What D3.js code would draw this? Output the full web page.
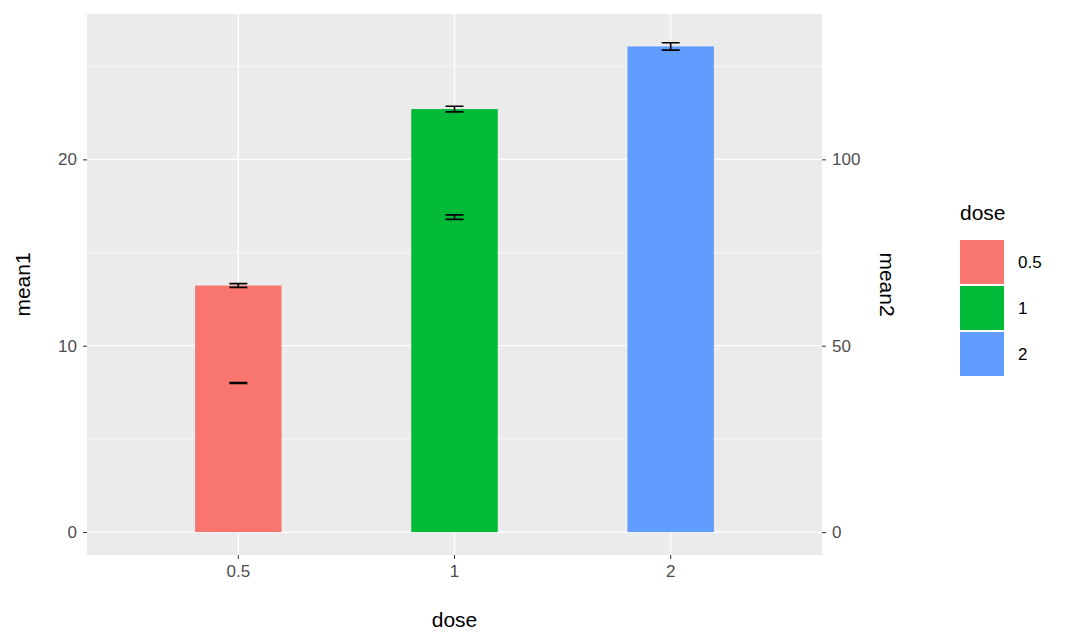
<!DOCTYPE html>
<html><head><meta charset="utf-8">
<script src="https://cdn.jsdelivr.net/npm/d3@7"></script>
<style>body{margin:0;background:#fff}text{font-family:"Liberation Sans",Arial,sans-serif}</style>
</head><body>
<script>
var doses = ["0.5", "1", "2"];
var mean1 = [13.23, 22.70, 26.06];
var err1 = [0.1, 0.15, 0.2];
var lowDoses = ["0.5", "1"];
var lowVals = [8.0, 16.9];
var lowErr = [0.02, 0.12];
var colors = ["#F8766D", "#00BA38", "#619CFF"];
var leftTicks = [0, 10, 20];
var rightTicks = [0, 50, 100];

var W = 1069, H = 641;
var margin = {top: 14, left: 87, right: 247, bottom: 86};
var pw = W - margin.left - margin.right, ph = H - margin.top - margin.bottom;

var svg = d3.select("body").append("svg").attr("width", W).attr("height", H);
var g = svg.append("g").attr("transform", "translate(" + margin.left + "," + margin.top + ")");

var x = d3.scaleBand().domain(doses).range([0, pw]).paddingInner(0.6).paddingOuter(0.5);
var y = d3.scaleLinear().domain([-1.23, 27.8]).range([ph, 0]);
var y2 = d3.scaleLinear().domain([-1.23 * 5, 27.8 * 5]).range([ph, 0]);

g.append("rect").attr("width", pw).attr("height", ph).attr("fill", "#EBEBEB");
[5, 15, 25].forEach(function(v) {
  g.append("line").attr("x1", 0).attr("x2", pw).attr("y1", y(v)).attr("y2", y(v)).attr("stroke", "#fff").attr("stroke-width", 0.6);
});
leftTicks.forEach(function(v) {
  g.append("line").attr("x1", 0).attr("x2", pw).attr("y1", y(v)).attr("y2", y(v)).attr("stroke", "#fff").attr("stroke-width", 1.3);
});
doses.forEach(function(d) {
  var cx = x(d) + x.bandwidth() / 2;
  g.append("line").attr("x1", cx).attr("x2", cx).attr("y1", 0).attr("y2", ph).attr("stroke", "#fff").attr("stroke-width", 1.3);
});

g.selectAll(".bar").data(doses).enter().append("rect")
  .attr("x", function(d) { return x(d); })
  .attr("width", x.bandwidth())
  .attr("y", function(d, i) { return y(mean1[i]); })
  .attr("height", function(d, i) { return y(0) - y(mean1[i]); })
  .attr("fill", function(d, i) { return colors[i]; });

function errbar(d, v, e) {
  var cx = x(d) + x.bandwidth() / 2, hw = 9;
  var p = d3.path();
  p.moveTo(cx - hw, y(v + e)); p.lineTo(cx + hw, y(v + e));
  p.moveTo(cx - hw, y(v - e)); p.lineTo(cx + hw, y(v - e));
  p.moveTo(cx, y(v + e)); p.lineTo(cx, y(v - e));
  g.append("path").attr("d", p.toString()).attr("stroke", "#000").attr("stroke-width", 1.6).attr("fill", "none");
}
doses.forEach(function(d, i) { errbar(d, mean1[i], err1[i]); });
lowDoses.forEach(function(d, i) { errbar(d, lowVals[i], lowErr[i]); });

var ax = g.append("g").attr("transform", "translate(0," + ph + ")").call(d3.axisBottom(x).tickSize(4).tickPadding(6));
var ayl = g.append("g").call(d3.axisLeft(y).tickValues(leftTicks).tickSize(4).tickPadding(6));
var ayr = g.append("g").attr("transform", "translate(" + pw + ",0)").call(d3.axisRight(y2).tickValues(rightTicks).tickSize(4).tickPadding(6));
[ax, ayl, ayr].forEach(function(a) {
  a.select(".domain").remove();
  a.selectAll("line").attr("stroke", "#333");
  a.selectAll("text").attr("fill", "#4D4D4D").style("font-size", "17px");
});

svg.append("text").attr("x", margin.left + pw / 2).attr("y", 627).attr("text-anchor", "middle").style("font-size", "21px").text("dose");
svg.append("text").attr("transform", "translate(30," + (margin.top + ph / 2) + ") rotate(-90)").attr("text-anchor", "middle").style("font-size", "21px").text("mean1");
svg.append("text").attr("transform", "translate(880," + (margin.top + ph / 2) + ") rotate(90)").attr("text-anchor", "middle").style("font-size", "21px").text("mean2");

var lg = svg.append("g").attr("transform", "translate(960,0)");
lg.append("text").attr("x", 0).attr("y", 220).style("font-size", "21px").text("dose");
doses.forEach(function(d, i) {
  lg.append("rect").attr("x", 0).attr("y", 240 + i * 46).attr("width", 44).attr("height", 44).attr("fill", colors[i]);
  lg.append("text").attr("x", 58).attr("y", 240 + i * 46 + 28).style("font-size", "17px").text(d);
});
</script>
</body></html>
